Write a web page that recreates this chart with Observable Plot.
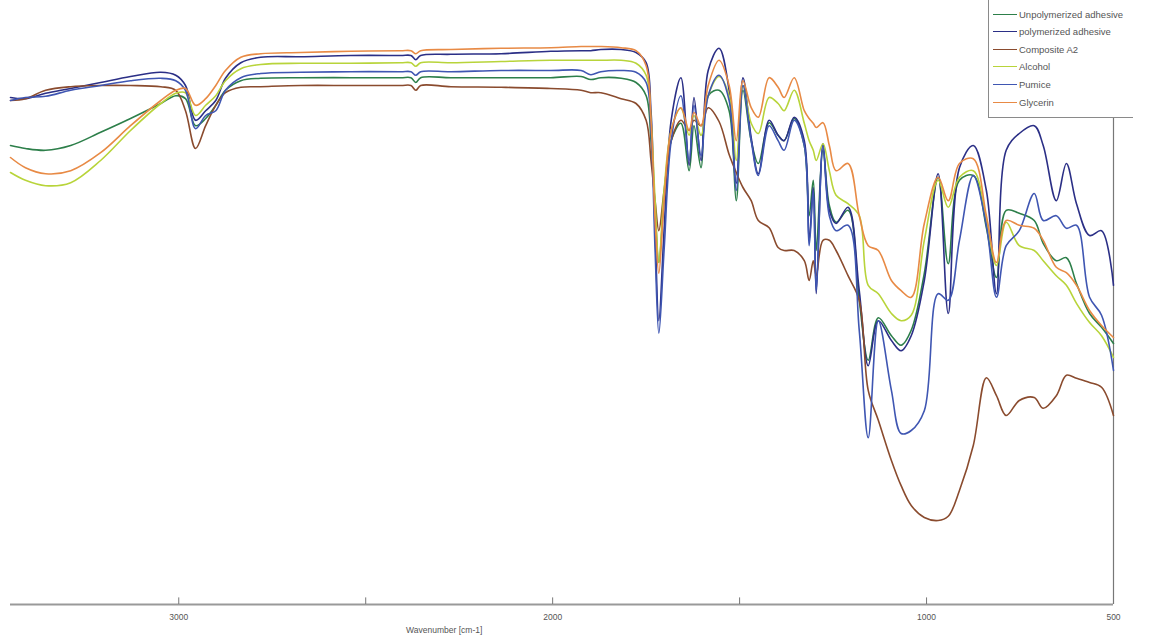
<!DOCTYPE html>
<html><head><meta charset="utf-8">
<script src="https://cdn.jsdelivr.net/npm/d3@7"></script>
<script src="https://cdn.jsdelivr.net/npm/@observablehq/plot@0.6"></script>
<style>
body{margin:0;background:#fff;}
#wrap{position:relative;width:1150px;height:639px;font-family:"Liberation Sans",Arial,sans-serif;}
#legend{position:absolute;left:988px;top:0;width:145px;height:118px;border-left:1px solid #8a8a8a;border-bottom:1px solid #8a8a8a;box-sizing:border-box;background:#fff;}
.item{position:absolute;left:4px;height:14px;display:flex;align-items:center;font-size:9.5px;color:#555;white-space:nowrap;}
.sw{width:24px;height:0;border-top:1.6px solid;margin-right:2px;}
</style></head>
<body><div id="wrap"><div id="chart"></div><div id="legend"></div></div>
<script>
const wavenumbers = [3450,3410,3356,3289,3209,3129,3048,3008,2982,2955,2928,2901,2875,2834,2781,2674,2540,2406,2379,2366,2353,2272,2138,2005,1924,1898,1871,1817,1777,1750,1737,1726,1716,1702,1683,1657,1635,1622,1603,1584,1555,1528,1509,1491,1469,1450,1421,1397,1381,1354,1327,1314,1303,1295,1277,1260,1242,1210,1180,1156,1129,1094,1068,1041,1006,969,942,912,875,840,813,787,752,712,688,653,626,599,564,532,500];

const unpolymerized = [76.5,76.0,75.7,76.5,78.7,81.0,83.5,84.8,84.3,79.8,
81.0,83.2,85.7,87.3,87.7,87.8,87.8,87.8,87.8,87.0,
87.8,87.8,87.8,87.8,88.0,87.5,87.8,87.7,87.0,84.8,
77.3,65.7,57.0,67.3,77.3,80.2,72.3,79.8,72.8,84.8,
85.7,82.3,67.3,85.7,77.3,73.5,80.3,78.2,77.3,81.0,
76.5,64.8,70.7,59.0,75.7,66.5,63.7,65.7,50.7,40.7,
47.8,44.8,43.2,45.7,55.2,71.2,56.8,70.7,71.5,62.8,
54.5,65.7,65.2,64.0,60.2,57.3,57.8,53.5,48.5,46.2,
43.5];

const polymerized = [84.5,84.3,85.2,86.0,87.0,88.0,88.7,88.2,86.5,80.7,
82.3,84.0,87.7,90.3,91.2,91.3,91.5,91.5,91.5,90.8,
91.5,91.7,91.8,92.2,92.3,92.3,92.5,92.5,92.0,90.3,
82.3,62.3,47.3,62.3,80.7,87.8,73.2,84.5,74.0,89.0,
92.7,85.7,70.2,87.8,77.8,71.8,80.7,78.2,77.3,81.2,
77.3,60.7,69.5,51.8,76.8,65.7,63.5,66.2,52.3,39.8,
47.3,44.0,42.3,44.8,54.0,71.8,48.5,72.8,76.5,69.0,
51.8,75.7,78.5,79.8,76.5,67.3,73.5,66.8,61.5,62.3,
53.2];

const compositeA2 = [84.0,84.3,85.7,86.3,86.5,86.5,86.3,85.7,82.3,76.0,
79.8,83.2,85.3,86.2,86.3,86.5,86.5,86.5,86.5,85.7,
86.5,86.3,86.2,86.0,85.7,85.3,85.3,84.3,83.5,80.7,
74.0,67.3,62.3,69.0,77.3,80.7,79.0,80.7,79.8,82.8,
80.5,75.0,72.0,69.5,67.3,64.0,62.8,59.5,59.0,59.0,
57.3,54.0,57.3,54.8,60.7,60.7,59.0,54.8,50.7,35.7,
30.7,24.0,19.8,16.5,14.5,14.0,14.7,19.0,26.5,37.8,
34.8,31.5,34.0,34.5,32.7,34.8,38.2,37.7,37.0,36.2,
31.5];

const alcohol = [72.0,70.7,69.8,70.3,74.0,79.0,83.5,85.2,85.3,81.5,
83.2,84.8,87.3,89.3,90.0,90.2,90.2,90.3,90.3,89.7,
90.3,90.3,90.5,90.7,90.7,90.7,90.7,90.7,90.2,88.2,
80.7,67.3,57.0,69.0,79.0,82.7,78.2,81.5,78.2,84.8,
88.0,84.8,74.0,86.5,80.2,78.5,84.5,83.5,82.3,85.7,
80.2,77.3,75.7,74.0,76.8,72.3,68.2,66.8,64.8,53.2,
51.8,48.5,47.3,48.2,60.7,70.7,66.2,71.2,72.3,64.0,
56.5,63.7,59.8,59.0,57.3,54.8,53.2,50.2,47.0,44.8,
41.2];

const pumice = [84.0,84.5,84.7,85.7,86.5,87.3,87.7,87.3,85.7,79.3,
81.5,82.3,85.7,87.8,88.5,88.7,88.8,88.8,88.8,88.2,
88.8,88.8,89.0,89.0,89.0,88.3,88.8,89.0,88.7,87.0,
79.0,59.0,45.2,59.0,77.3,84.8,74.0,83.2,74.8,84.8,
88.2,84.0,69.0,86.5,77.3,71.5,79.8,77.3,75.7,80.7,
76.5,59.8,69.0,52.3,76.5,64.8,62.3,63.2,45.7,27.8,
47.3,35.7,28.5,29.0,32.3,51.8,50.7,60.7,71.5,63.2,
51.2,59.8,62.3,68.5,64.0,64.8,62.7,63.2,51.2,48.2,
39.0];

const glycerin = [74.5,72.8,71.8,72.3,75.3,79.8,84.0,85.7,86.0,83.2,
84.3,86.5,89.0,91.2,91.8,92.0,92.2,92.3,92.3,91.8,
92.3,92.5,92.7,92.8,93.0,93.0,93.0,92.8,92.3,89.8,
80.7,64.0,55.2,67.3,79.0,82.8,79.0,82.0,79.8,86.5,
90.7,86.5,77.3,87.3,82.8,81.2,87.8,86.2,84.5,87.8,
82.3,81.0,80.2,79.5,80.3,76.5,72.3,73.5,64.8,59.8,
59.0,54.0,52.3,51.2,63.5,71.2,67.3,73.5,74.3,64.8,
57.0,64.0,63.2,62.7,60.7,56.2,55.3,53.2,49.0,46.5,
44.5];

const seriesNames = ["Unpolymerized adhesive","polymerized adhesive","Composite A2","Alcohol","Pumice","Glycerin"];
const seriesValues = [unpolymerized, polymerized, compositeA2, alcohol, pumice, glycerin];
const seriesColors = ["#2d7f4a","#2b2f86","#8a4b2e","#b8d43a","#3f56b2","#e88a45"];
const majorTicks = [3000, 2000, 1000, 500];
const minorTicks = [2500, 1500];
const axisLabel = "Wavenumber [cm-1]";

const rows = seriesNames.flatMap((name, s) =>
  wavenumbers.map((wn, i) => ({series: name, wn, t: seriesValues[s][i]})));

const chart = Plot.plot({
  width: 1150, height: 639,
  marginLeft: 10, marginRight: 37, marginTop: 4, marginBottom: 35,
  style: {background: "transparent", fontFamily: "Liberation Sans, Arial, sans-serif"},
  x: {domain: [3450, 500]},
  y: {domain: [0, 100], axis: null},
  color: {domain: seriesNames, range: seriesColors},
  marks: [
    Plot.ruleY([0], {stroke: "#999", strokeWidth: 2}),
    Plot.ruleX([500], {y1: 0, y2: 100.7, stroke: "#777", strokeWidth: 1.2}),
    Plot.ruleX(majorTicks.concat(minorTicks), {y1: 0, y2: 1.1, stroke: "#777"}),
    Plot.axisX(majorTicks, {tickSize: 0, tickPadding: 9, fontSize: 8.5, color: "#555", label: null, tickFormat: d3.format("d")}),
    Plot.text([axisLabel], {x: 2290, frameAnchor: "bottom", dy: 28, fontSize: 8.5, fill: "#555"}),
    Plot.line(rows, {x: "wn", y: "t", z: "series", stroke: "series", strokeWidth: 1.6, curve: "catmull-rom"})
  ]
});
document.getElementById("chart").appendChild(chart);

const legend = document.getElementById("legend");
seriesNames.forEach((name, i) => {
  const it = document.createElement("div");
  it.className = "item";
  it.style.top = (7 + i * 17.6) + "px";
  const sw = document.createElement("span");
  sw.className = "sw";
  sw.style.borderTopColor = seriesColors[i];
  const tx = document.createElement("span");
  tx.textContent = name;
  it.appendChild(sw); it.appendChild(tx);
  legend.appendChild(it);
});
</script>
</body></html>
